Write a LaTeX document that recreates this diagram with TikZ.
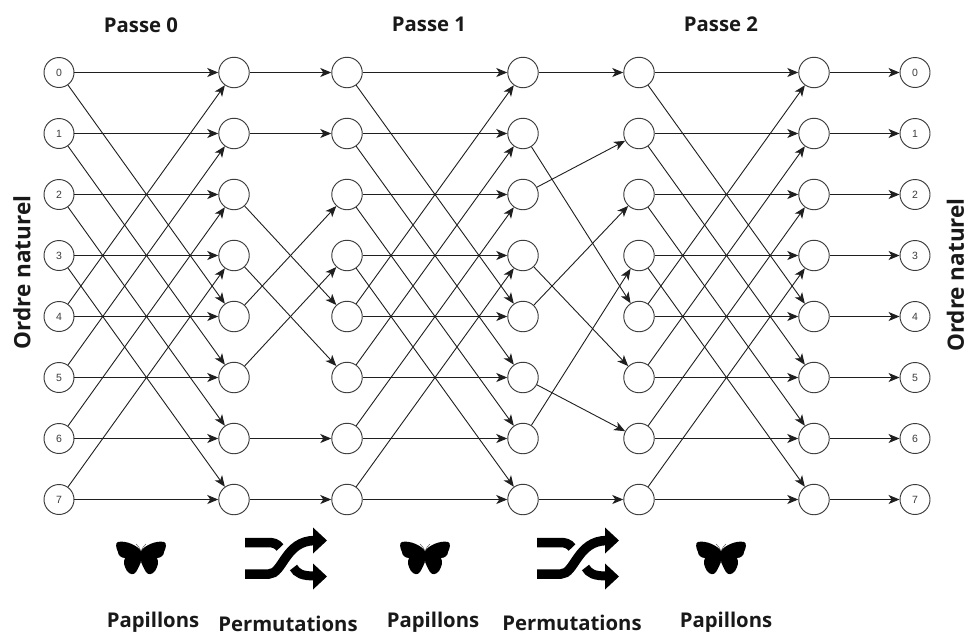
\documentclass[tikz,border=0pt]{standalone}
\usepackage{fontspec}
\setmainfont{Open Sans}
\newfontfamily\digitfont{Liberation Sans}
\usetikzlibrary{arrows.meta}
\definecolor{cb}{HTML}{3C3C3C}
\tikzset{x=1pt,y=-1pt,
  fftnode/.style={circle,draw=cb,line width=0.95pt,fill=white,minimum size=30.5pt,inner sep=0pt,font=\digitfont\fontsize{10.5}{11}\selectfont\color{cb}},
  wire/.style={draw=black!88,line width=0.9pt,-{Stealth[length=11pt,width=9pt,inset=3pt]}},
  caption/.style={font=\fontsize{20.3}{24}\selectfont\bfseries,text=black!90,inner sep=0pt},
  sidecaption/.style={font=\fontsize{22.5}{26}\selectfont\bfseries,text=black!90,inner sep=0pt,rotate=90},
  icon/.style={fill=black,draw=none}
}
\newcommand{\mybutterfly}[2]{%
  \begin{scope}[shift={(#1,#2)}]
    \fill[icon] (0,-7) .. controls (3,-12) and (15,-18) .. (23,-16) .. controls (26,-15) and (25,-10) .. (23,-6)
      .. controls (23,-3) and (20,0) .. (16,0) .. controls (18,4) and (17,8) .. (14,13)
      .. controls (11,17) and (7,17) .. (5,14) .. controls (3,11) and (1,6) .. (0,4)
      .. controls (-1,6) and (-3,11) .. (-5,14) .. controls (-7,17) and (-11,17) .. (-14,13)
      .. controls (-17,8) and (-18,4) .. (-16,0) .. controls (-20,0) and (-23,-3) .. (-23,-6)
      .. controls (-25,-10) and (-26,-15) .. (-23,-16) .. controls (-15,-18) and (-3,-12) .. (0,-7) -- cycle;
    \draw[black!65,line width=0.5pt] (0,-7) .. controls (-1,-10) and (-3,-12) .. (-5,-14);
    \draw[black!65,line width=0.5pt] (0,-7) .. controls (1,-10) and (3,-12) .. (5,-14);
    \fill[white] (-0.5,9) -- (0,3) -- (0.5,9) -- cycle;
  \end{scope}}
\newcommand{\myshuffle}[2]{%
  \begin{scope}[shift={(#1,#2)}]
    \draw[black,line width=9.5pt] (0,4) -- (23,4) .. controls (28,4) and (32,5) .. (35,9);
    \draw[black,line width=9.5pt] (0,35.5) -- (24,35.5) .. controls (38,35.5) and (40,2) .. (70,2);
    \draw[black,line width=9pt] (48.5,29) .. controls (52,35) and (57,37.5) .. (70,37.5);
    \fill[black] (68,-11) -- (82,2) -- (68,15) -- cycle;
    \fill[black] (68,25) -- (82,38) -- (68,51) -- cycle;
  \end{scope}}
\begin{document}
\begin{tikzpicture}
\useasboundingbox (0,0) rectangle (969,635);
\fill[white] (0,0) rectangle (969,635);
\def\rows{{72.5,133.5,194.5,255.5,316.5,377.5,438.5,499.5}}
\foreach \c/\x in {0/59,1/234,2/347,3/523,4/639,5/814,6/915}{
  \foreach \r in {0,...,7}{
    \pgfmathsetmacro\yy{\rows[\r]}
    \ifnum\c=0
      \node[fftnode,minimum size=30pt] (n\c\r) at (\x,\yy) {\r};
    \else\ifnum\c=6
      \node[fftnode,minimum size=30pt] (n\c\r) at (\x,\yy) {\r};
    \else
      \node[fftnode] (n\c\r) at (\x,\yy) {};
    \fi\fi
  }
}
% straight + butterflies
\foreach \c/\d in {0/1,2/3,4/5}{
  \foreach \r in {0,...,7}{
    \draw[wire] (n\c\r) -- (n\d\r);
    \pgfmathtruncatemacro\o{mod(\r+4,8)}
    \draw[wire] (n\c\r) -- (n\d\o);
  }
}
\foreach \a/\b in {0/0,1/1,2/4,3/5,4/2,5/3,6/6,7/7}{\draw[wire] (n1\a) -- (n2\b);}
\foreach \a/\b in {0/0,1/4,2/1,3/5,4/2,5/6,6/3,7/7}{\draw[wire] (n3\a) -- (n4\b);}
\foreach \r in {0,...,7}{\draw[wire] (n5\r) -- (n6\r);}
% titles
\node[caption] (p0) at (141,25) {Passe 0};
\node[caption] (p1) at (429,24) {Passe 1};
\node[caption] (p2) at (721,24) {Passe 2};
\node[sidecaption] (ol) at (22,272.5) {Ordre naturel};
\node[sidecaption] (or) at (955.5,275) {Ordre naturel};
\node[caption] (c0) at (153,622) {Papillons};
\node[caption] (c1) at (288,624) {Permutations};
\node[caption] (c2) at (433,622) {Papillons};
\node[caption] (c3) at (572,623) {Permutations};
\node[caption] (c4) at (726,622) {Papillons};
\mybutterfly{141}{558}
\mybutterfly{425}{558}
\mybutterfly{721}{558}
\myshuffle{245}{538.5}
\myshuffle{537}{538.5}
\end{tikzpicture}
\end{document}
